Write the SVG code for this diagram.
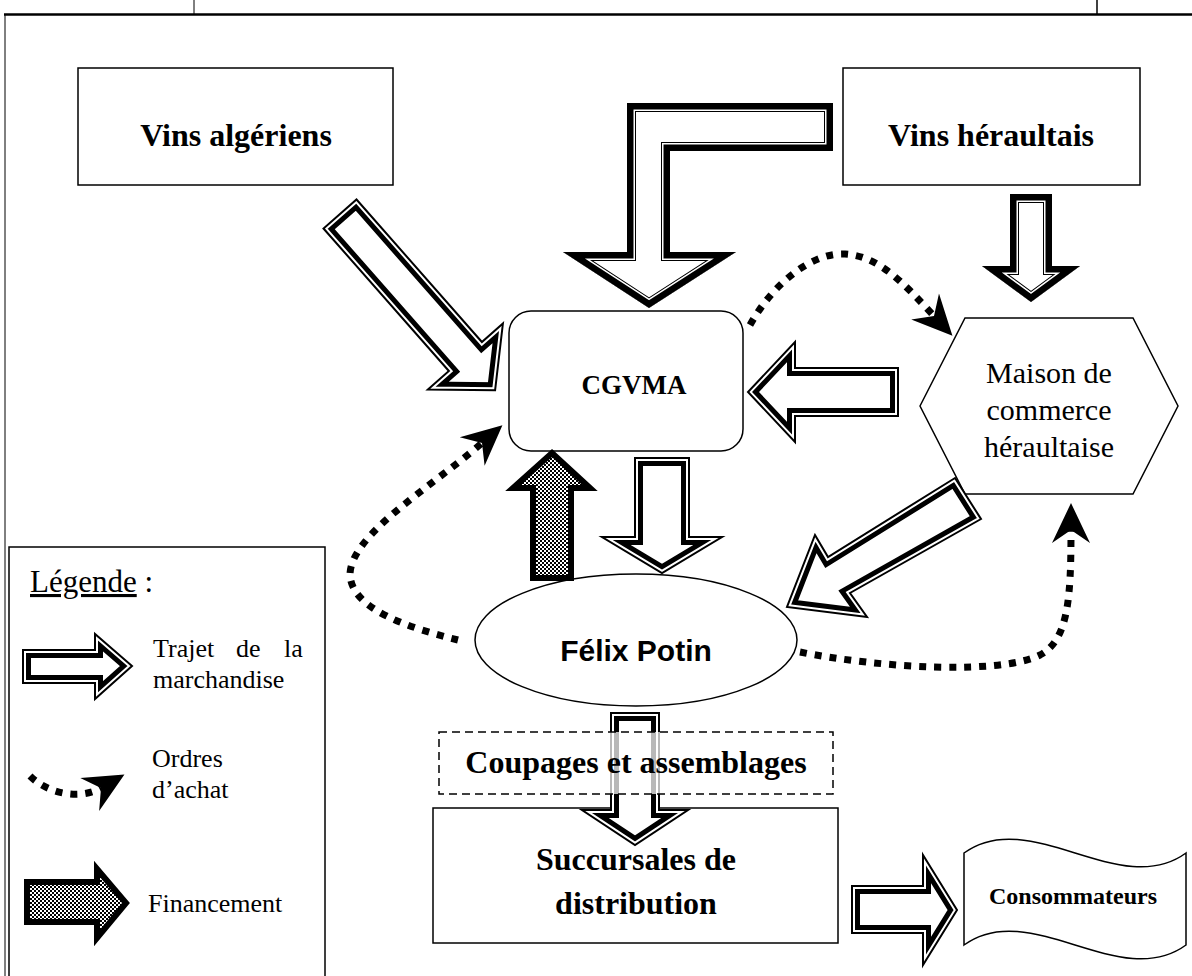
<svg xmlns="http://www.w3.org/2000/svg" width="1192" height="976" viewBox="0 0 1192 976">
<defs>
<style>
.box{fill:#fff;stroke:#000;stroke-width:1.5}
.t{font-family:"Liberation Serif","Times New Roman",serif;fill:#000}
.b{font-weight:bold}
.c{text-anchor:middle}
.af{fill:#fff;stroke:none}
.a1{fill:none;stroke:#000;stroke-width:16;stroke-linejoin:miter;stroke-miterlimit:20}
.a2{fill:none;stroke:#fff;stroke-width:6;stroke-linejoin:miter;stroke-miterlimit:20}
.a3{fill:none;stroke:#000;stroke-width:2;stroke-linejoin:miter;stroke-miterlimit:20}
.k1{fill:none;stroke:#000;stroke-width:18;stroke-linejoin:miter;stroke-miterlimit:20}
.k2{fill:none;stroke:#fff;stroke-width:16;stroke-linejoin:miter;stroke-miterlimit:20}
.k3{fill:none;stroke:#000;stroke-width:13;stroke-linejoin:miter;stroke-miterlimit:20}
.dot{fill:none;stroke:#000;stroke-width:7;stroke-dasharray:7 8;marker-end:url(#ah)}
.fin{fill:url(#chk);stroke:#000;stroke-width:6;stroke-linejoin:miter;stroke-miterlimit:20}
</style>
<pattern id="chk" width="4" height="4" patternUnits="userSpaceOnUse">
<rect width="4" height="4" fill="#fff"/><rect width="2" height="2" fill="#000"/><rect x="2" y="2" width="2" height="2" fill="#000"/>
</pattern>
<marker id="ah" markerUnits="userSpaceOnUse" markerWidth="60" markerHeight="60" viewBox="-20 -30 60 60" refX="0" refY="0" orient="auto">
<path d="M27,0 L-13,-19 L0,0 L-13,19 Z" fill="#000" stroke="none"/>
</marker>
<path id="p1" d="M356.5,199.5 L481.9,342 L502.9,323.5 L495.1,390.3 L427.9,389.5 L448.9,371 L323.5,228.5 Z"/>
<path id="p2" d="M627,103 L833,103 L833,151 L670,151 L670,252 L736,252 L649,308 L563,252 L627,252 Z"/>
<path id="p3" d="M1010,194 L1052,194 L1052,266 L1080,266 L1031,302 L982,266 L1010,266 Z"/>
<path id="p4" d="M898,368 L898,416 L795,416 L795,442 L748,392 L795,342 L795,368 Z"/>
<path id="p5" d="M635,458 L689,458 L689,537 L722,537 L662,573 L602,537 L635,537 Z"/>
<path id="p7" d="M955,478 L981,519 L850,593 L867,617 L787,607 L815,535 L828,557 Z"/>
<path id="p8" d="M611,713 L659,713 L659,810 L688,810 L635,845 L582,810 L611,810 Z"/>
<path id="p9" d="M852,886 L923,886 L923,855 L957,910 L923,965 L923,933 L852,933 Z"/>
<path id="pL" d="M23,650 L95,650 L95,634 L132,666 L95,699 L95,683 L23,683 Z"/>
<clipPath id="c1"><use href="#p1"/></clipPath>
<clipPath id="c2"><use href="#p2"/></clipPath>
<clipPath id="c3"><use href="#p3"/></clipPath>
<clipPath id="c4"><use href="#p4"/></clipPath>
<clipPath id="c5"><use href="#p5"/></clipPath>
<clipPath id="c7"><use href="#p7"/></clipPath>
<clipPath id="c8"><use href="#p8"/></clipPath>
<clipPath id="c9"><use href="#p9"/></clipPath>
<clipPath id="cL"><use href="#pL"/></clipPath>
</defs>

<rect width="1192" height="976" fill="#fff"/>

<g id="frame" fill="none" stroke="#000">
<line x1="194" y1="0" x2="194" y2="14" stroke-width="1"/>
<line x1="1097" y1="0" x2="1097" y2="14" stroke-width="1.5"/>
<line x1="4" y1="14.5" x2="1192" y2="14.5" stroke-width="2.5"/>
<line x1="5" y1="14" x2="5" y2="976" stroke-width="1"/>
</g>

<g id="vins-algeriens">
<rect class="box" x="78" y="68" width="315" height="117"/>
<text class="t b c" x="236" y="146" font-size="32">Vins algériens</text>
</g>

<g id="vins-heraultais">
<rect class="box" x="843" y="68" width="297" height="117"/>
<text class="t b c" x="991" y="146" font-size="32">Vins héraultais</text>
</g>

<g id="cgvma">
<rect class="box" x="509" y="311" width="234" height="140" rx="22"/>
<text class="t b c" x="634" y="394" font-size="27">CGVMA</text>
</g>

<g id="maison">
<polygon class="box" points="920,406 965,318 1133,318 1178,406 1133,494 965,494"/>
<text class="t c" x="1049" y="383" font-size="30">Maison de</text>
<text class="t c" x="1049" y="420" font-size="30">commerce</text>
<text class="t c" x="1049" y="457" font-size="30">héraultaise</text>
</g>

<g id="felix">
<ellipse class="box" cx="636" cy="640" rx="161" ry="66"/>
<text x="636" y="661" font-size="30" font-weight="bold" text-anchor="middle" font-family="'Liberation Sans', Arial, sans-serif">Félix Potin</text>
</g>

<g id="succursales">
<rect class="box" x="433" y="808" width="405" height="135"/>
<text class="t b c" x="636" y="870" font-size="32">Succursales de</text>
<text class="t b c" x="636" y="914" font-size="32">distribution</text>
</g>

<g id="consommateurs">
<path class="box" d="M964,853 C1030,805 1120,901 1186,853 L1186,945 C1120,993 1030,897 964,945 Z"/>
<text class="t b c" x="1073" y="904" font-size="24">Consommateurs</text>
</g>

<g id="connectors">
<g><use href="#p1" class="af"/><use href="#p1" class="a1" clip-path="url(#c1)"/><use href="#p1" class="a2" clip-path="url(#c1)"/><use href="#p1" class="a3"/></g>
<g><use href="#p2" class="af"/><use href="#p2" class="k1" clip-path="url(#c2)"/><use href="#p2" class="k2" clip-path="url(#c2)"/><use href="#p2" class="k3" clip-path="url(#c2)"/></g>
<g><use href="#p3" class="af"/><use href="#p3" class="k1" clip-path="url(#c3)"/><use href="#p3" class="k2" clip-path="url(#c3)"/><use href="#p3" class="k3" clip-path="url(#c3)"/></g>
<g><use href="#p4" class="af"/><use href="#p4" class="a1" clip-path="url(#c4)"/><use href="#p4" class="a2" clip-path="url(#c4)"/><use href="#p4" class="a3"/></g>
<g><use href="#p5" class="af"/><use href="#p5" class="a1" clip-path="url(#c5)"/><use href="#p5" class="a2" clip-path="url(#c5)"/><use href="#p5" class="a3"/></g>
<path class="fin" d="M533,578 L533,488 L513,488 L552,453 L590,488 L571,488 L571,578 Z"/>
<g><use href="#p7" class="af"/><use href="#p7" class="a1" clip-path="url(#c7)"/><use href="#p7" class="a2" clip-path="url(#c7)"/><use href="#p7" class="a3"/></g>
<g><use href="#p8" class="af"/><use href="#p8" class="a1" clip-path="url(#c8)"/><use href="#p8" class="a2" clip-path="url(#c8)"/><use href="#p8" class="a3"/></g>
<g><use href="#p9" class="af"/><use href="#p9" class="a1" clip-path="url(#c9)"/><use href="#p9" class="a2" clip-path="url(#c9)"/><use href="#p9" class="a3"/></g>
<path class="dot" d="M750,325 C775,280 815,252 845,254 C880,256 905,285 934,316"/>
<path class="dot" d="M458,640 C410,628 352,610 350,575 C350,535 430,488 482,443"/>
<path class="dot" d="M800,652 C880,668 1000,675 1040,655 C1068,640 1071,600 1071,530"/>
</g>

<g id="coupages">
<rect x="439" y="732" width="394" height="62" fill="#fff" fill-opacity="0.72" stroke="#000" stroke-width="1.5" stroke-dasharray="8 5"/>
<text class="t b c" x="636" y="773" font-size="32">Coupages et assemblages</text>
</g>

<g id="legende">
<rect x="9" y="547" width="316" height="440" fill="#fff" stroke="#000" stroke-width="1.5"/>
<text class="t" x="30" y="592" font-size="31"><tspan text-decoration="underline">Légende</tspan> :</text>
<g><use href="#pL" class="af"/><use href="#pL" class="a1" clip-path="url(#cL)"/><use href="#pL" class="a2" clip-path="url(#cL)"/><use href="#pL" class="a3"/></g>
<text class="t" y="657" font-size="26"><tspan x="153">Trajet</tspan><tspan x="236">de</tspan><tspan x="284">la</tspan></text>
<text class="t" x="153" y="688" font-size="26">marchandise</text>
<path class="dot" d="M30,776 C48,794 80,800 101,788"/>
<text class="t" x="152" y="767" font-size="26">Ordres</text>
<text class="t" x="152" y="798" font-size="26">d’achat</text>
<path class="fin" d="M27,882 L97,882 L97,869 L126,903 L97,938 L97,922 L27,922 Z"/>
<text class="t" x="148" y="912" font-size="26">Financement</text>
</g>
</svg>
